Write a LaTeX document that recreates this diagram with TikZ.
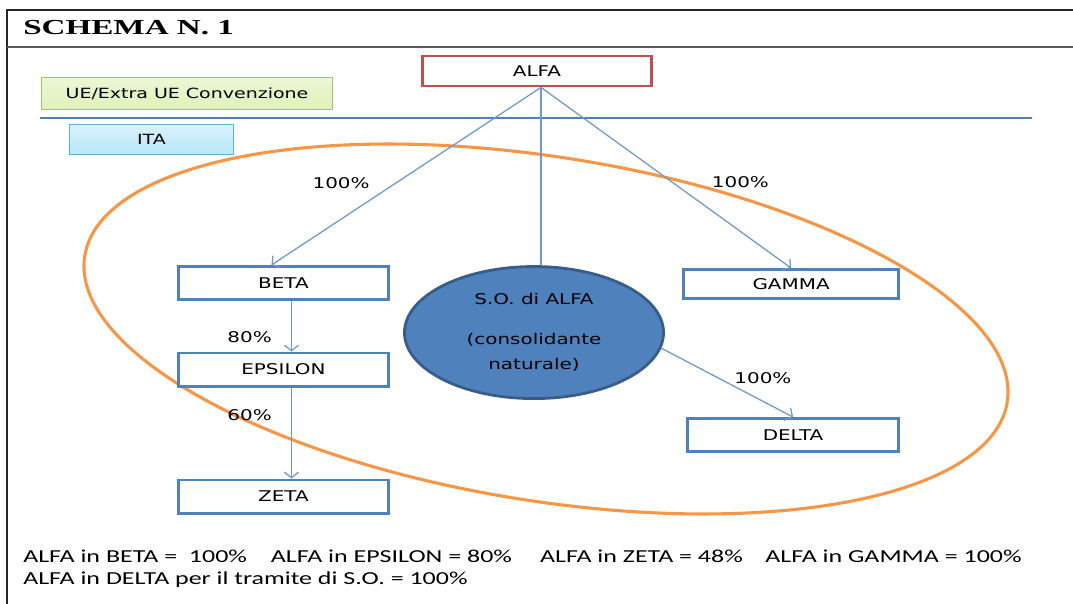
\documentclass[tikz,border=0pt]{standalone}
\usepackage{fontspec}
\usetikzlibrary{positioning,shapes.geometric,arrows.meta}
\newfontfamily\verd{DejaVu Sans}[FakeStretch=1.35]
\newfontfamily\calib{Carlito}[FakeStretch=1.42]
\newfontfamily\titlefont{Liberation Serif}[FakeStretch=1.55]
\definecolor{boxblue}{HTML}{4F81BD}
\definecolor{lineblue}{HTML}{6F98D0}
\definecolor{alfared}{HTML}{C0504D}
\definecolor{soborder}{HTML}{385D8A}
\definecolor{ovalorange}{HTML}{F79646}
\definecolor{uefill}{HTML}{E0F1BA}
\definecolor{ueborder}{HTML}{9FC460}
\definecolor{itafill}{HTML}{B9E7F8}
\definecolor{itaborder}{HTML}{5AB3D0}
\tikzset{
  company/.style={draw=boxblue, line width=2pt, fill=white, inner sep=0pt,
    minimum width=5.25cm, minimum height=0.83cm, font=\verd\fontsize{10.5}{12}\selectfont},
  area/.style={line width=0.8pt, inner sep=0pt, font=\verd\fontsize{10}{12}\selectfont},
  pct/.style={inner sep=0pt, font=\verd\fontsize{10.5}{12}\selectfont},
  link/.style={draw=lineblue, line width=0.9pt}
}

\begin{document}
\begin{tikzpicture}[x=0.025cm, y=-0.025cm, >={Straight Barb[length=4pt,width=10pt]}]
  \useasboundingbox (0,0) rectangle (1073,604);
  % Frame
  \draw[black!85, line width=1.4pt] (7,604) -- (7,10) -- (1073,10);
  \draw[black!65, line width=1.4pt] (7,47) -- (1073,47);
  \node (title) [anchor=base west, inner sep=0pt, font=\titlefont\bfseries\fontsize{15.2}{17}\selectfont] at (23,35) {SCHEMA N. 1};
  \draw[boxblue, line width=0.9pt] (40,118) -- (1032,118);
  \draw[ovalorange, line width=2.2pt, rotate around={-9:(546,329)}] (546,329) ellipse [x radius=467, y radius=172];

  % Nodes
  \node (ue) [area, draw=ueborder, top color=uefill!60, bottom color=uefill, minimum width=7.275cm, minimum height=0.8cm] at (187,93.5) {UE/Extra UE Convenzione};
  \node (ita) [area, draw=itaborder, top color=itafill!55, bottom color=itafill, minimum width=4.1cm, minimum height=0.75cm] at (151.5,139.5) {ITA};
  \node (alfa) [company, draw=alfared, minimum width=5.725cm, minimum height=0.75cm] at (537,71) {ALFA};
  \node (beta) [company, below of=alfa, node distance=5.3cm, xshift=-6.3375cm] {BETA};
  \node (epsilon) [company, below of=beta, node distance=2.1625cm] {EPSILON};
  \node (zeta) [company, below of=epsilon, node distance=3.175cm] {ZETA};
  \node (gamma) [company, below of=alfa, node distance=5.325cm, xshift=6.35cm, minimum width=5.375cm, minimum height=0.73cm] {GAMMA};
  \node (delta) [company, below of=gamma, node distance=3.775cm, xshift=0.05cm, minimum width=5.275cm] {DELTA};
  \node (so) [ellipse, draw=soborder, line width=2pt, fill=boxblue, below of=alfa, node distance=6.5375cm, xshift=-0.075cm,
    minimum width=6.475cm, minimum height=3.3cm, inner sep=0pt, align=center,
    font=\verd\fontsize{10.5}{17.5}\selectfont] {S.O. di ALFA\\[11pt](consolidante\\naturale)};

  % Arrows
  \coordinate (root) at ([xshift=0.1cm]alfa.south);
  \draw[link,->] (root) -- node[pct, pos=0.537, left=0.65cm] {100\%} ([xshift=-0.3cm]beta.north);
  \draw[link] (root) -- (root |- so.north);
  \draw[link,->] (root) -- node[pct, pos=0.525, right=0.975cm] {100\%} (gamma.north);
  \draw[link,->] ([xshift=0.2cm]beta.south) -- node[pct, pos=0.72, left=0.475cm] {80\%} ([xshift=0.2cm]epsilon.north);
  \draw[link,->] ([xshift=0.2cm]epsilon.south) -- node[pct, pos=0.3, left=0.475cm] {60\%} ([xshift=0.2cm]zeta.north);
  \draw[link,->] (so.-7) -- node[pct, pos=0.55, anchor=south west, yshift=1pt] {100\%} (delta.north);

  % Summary
  \node (sum1) [anchor=base west, inner sep=0pt, font=\calib\fontsize{13}{15}\selectfont] at (23,562)
    {ALFA in BETA =~~100\%\hspace{17pt}ALFA in EPSILON = 80\%\hspace{20pt}ALFA in ZETA = 48\%\hspace{16pt}ALFA in GAMMA = 100\%};
  \node (sum2) [anchor=base west, inner sep=0pt, font=\calib\fontsize{13}{15}\selectfont] at (23,584)
    {ALFA in DELTA per il tramite di S.O. = 100\%};
\end{tikzpicture}
\end{document}
